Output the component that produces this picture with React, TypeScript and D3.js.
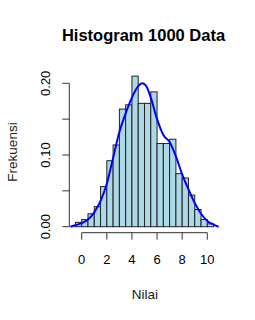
import React from "react";
import * as d3 from "d3";

const binStarts = [-0.5, 0, 0.5, 1, 1.5, 2, 2.5, 3, 3.5, 4, 4.5, 5, 5.5, 6, 6.5, 7, 7.5, 8, 8.5, 9, 9.5, 10];
const binWidth = 0.5;
const densities = [0.006, 0.010, 0.018, 0.028, 0.056, 0.092, 0.114, 0.164, 0.170, 0.210, 0.172, 0.172, 0.188, 0.116, 0.116, 0.122, 0.074, 0.068, 0.044, 0.024, 0.010, 0.004];

const curveX = [-0.9, -0.5, 0, 0.5, 1, 1.5, 2, 2.5, 3, 3.5, 4, 4.5, 4.8, 5.1, 5.5, 6, 6.5, 7, 7.5, 8, 8.5, 9, 9.5, 10, 10.5, 10.9];
const curveY = [0, 0.002, 0.005, 0.010, 0.020, 0.036, 0.060, 0.096, 0.132, 0.158, 0.180, 0.196, 0.200, 0.197, 0.180, 0.150, 0.128, 0.118, 0.098, 0.073, 0.052, 0.033, 0.018, 0.008, 0.003, 0];

const xTicks = [0, 2, 4, 6, 8, 10];
const yTicks = [0, 0.05, 0.1, 0.15, 0.2];
const yTickLabels = ["0.00", "", "0.10", "", "0.20"];

export default function App() {
  const x = d3.scaleLinear().domain([0, 10]).range([81.7, 207.3]);
  const y = d3.scaleLinear().domain([0, 0.2]).range([226.7, 83.3]);
  const line = d3
    .line<number>()
    .x((_, i) => x(curveX[i]))
    .y((d) => y(d))
    .curve(d3.curveMonotoneX);
  const font = "'Liberation Sans', Arial, sans-serif";
  const axisY = 232.7;
  const axisX = 69.3;
  return (
    <svg
      width={255}
      height={320}
      style={{ position: "absolute", left: 0, top: 0, background: "#fff" }}
      fontFamily={font}
    >
      <rect x={0} y={0} width={255} height={320} fill="#fff" />
      <text x={143.5} y={40.5} textAnchor="middle" fontSize={16.5} fontWeight="bold" fill="#000">
        Histogram 1000 Data
      </text>
      {binStarts.map((b, i) => (
        <rect
          key={i}
          x={x(b)}
          y={y(densities[i])}
          width={x(b + binWidth) - x(b)}
          height={y(0) - y(densities[i])}
          fill="#ADD8E6"
          stroke="#222"
          strokeWidth={1}
        />
      ))}
      <path d={line(curveY) || ""} fill="none" stroke="#0000FF" strokeWidth={2} />
      <line x1={axisX} x2={axisX} y1={y(0.2)} y2={y(0)} stroke="#333" />
      {yTicks.map((t, i) => (
        <g key={i}>
          <line x1={axisX - 7} x2={axisX} y1={y(t)} y2={y(t)} stroke="#333" />
          {yTickLabels[i] && (
            <text
              transform={`translate(${50},${y(t)}) rotate(-90)`}
              textAnchor="middle"
              fontSize={13}
              fill="#000"
            >
              {yTickLabels[i]}
            </text>
          )}
        </g>
      ))}
      <line x1={x(0)} x2={x(10)} y1={axisY} y2={axisY} stroke="#333" />
      {xTicks.map((t) => (
        <g key={t}>
          <line x1={x(t)} x2={x(t)} y1={axisY} y2={axisY + 7} stroke="#333" />
          <text x={x(t)} y={264} textAnchor="middle" fontSize={13} fill="#000">
            {t}
          </text>
        </g>
      ))}
      <text x={145} y={298.5} textAnchor="middle" fontSize={13.5} fill="#222">
        Nilai
      </text>
      <text
        transform={`translate(${17},${152}) rotate(-90)`}
        textAnchor="middle"
        fontSize={13.5}
        fill="#222"
      >
        Frekuensi
      </text>
    </svg>
  );
}
